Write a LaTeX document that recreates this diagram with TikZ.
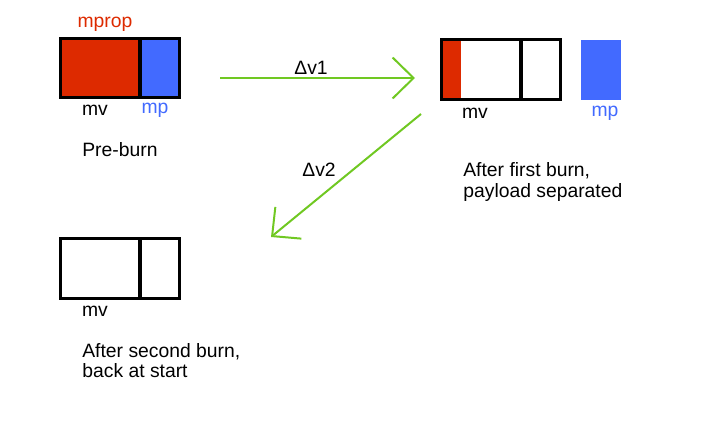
\documentclass[tikz,border=0pt]{standalone}
\usepackage{fontspec}
\setmainfont{Liberation Sans}
\usetikzlibrary{positioning,arrows.meta}

\definecolor{propred}{RGB}{221,42,0}
\definecolor{loadblue}{RGB}{66,106,255}
\definecolor{burngreen}{RGB}{112,200,34}

\begin{document}
\begin{tikzpicture}[
  x=0.02cm, y=-0.02cm,
  font=\fontsize{11}{11.4}\selectfont,
  vehblock/.style={draw, line width=0.06cm, minimum width=1.6cm,
    minimum height=1.2cm, inner sep=0pt},
  loadblock/.style={draw, line width=0.06cm, minimum width=0.8cm,
    minimum height=1.2cm, inner sep=0pt},
  label/.style={inner sep=0pt, align=left},
  burn/.style={burngreen, line width=0.04cm,
    -{Straight Barb[length=0.42cm, width=0.82cm, line width=0.04cm]}}
]
\useasboundingbox (0,0) rectangle (704,426);
% pre-burn
\node[vehblock, fill=propred] (veh1) at (100,68) {};
\node[loadblock, fill=loadblue] (load1) at (160,68) {};
\node[label, text=propred] (mprop) at (105,24) {mprop};
\node[label] (mv1) at (95,110) {mv};
\node[label, text=loadblue] (mp1) at (155,110) {mp};
\node[label, anchor=west] (pre) at (82,150) {Pre-burn};
% after first burn
\node[vehblock, path picture={\fill[propred]
    (path picture bounding box.south west) rectangle
    ([xshift=0.4cm]path picture bounding box.north west);}]
  (veh2) at (481,69.5) {};
\node[loadblock] (stage2) at (541,69.5) {};
\node[minimum width=0.8cm, minimum height=1.2cm, inner sep=0pt,
  fill=loadblue] (load2) at (601,70) {};
\node[label] (mv2) at (475,113) {mv};
\node[label, text=loadblue] (mp2) at (605,113) {mp};
\node[label, anchor=west] (first) at (463,182)
  {After first burn,\\payload separated};
% after second burn
\node[vehblock] (veh3) at (100,268.5) {};
\node[loadblock] (stage3) at (160,268.5) {};
\node[label] (mv3) at (95,311) {mv};
\node[label, anchor=west] (second) at (82,361)
  {After second burn,\\back at start};
% burns
\coordinate (dv1s) at (220,78);
\coordinate (dv1e) at (415,78);
\coordinate (dv2s) at (421,114);
\coordinate (dv2e) at (271,237);
\draw[burn] (dv1s) -- (dv1e);
\draw[burn] (dv2s) -- (dv2e);
\node[label] (dv1) at (311,68) {Δv1};
\node[label] (dv2) at (319,170) {Δv2};
\end{tikzpicture}
\end{document}
